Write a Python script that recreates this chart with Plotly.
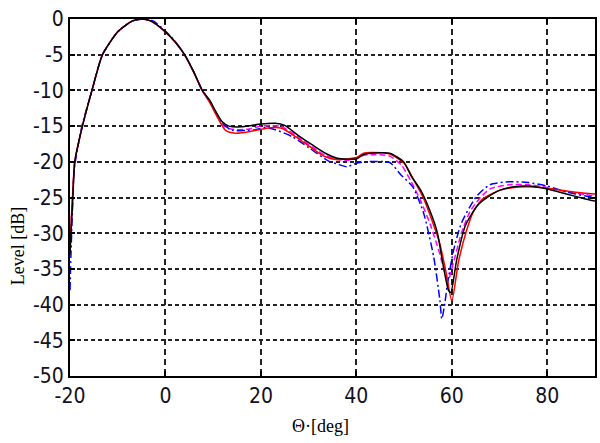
import plotly.graph_objects as go

# Measured pattern level vs. angle for four configurations
black_x = [-20, -19.8, -19.4, -19, -17.4, -15.4, -13.2, -10, -7, -5, -3, 0, 2, 4, 6, 7.7,
           9.2, 10.6, 11.9, 13.3, 16, 18, 20, 23, 25, 28, 30.7, 33.5, 36, 40, 41.5, 43,
           47, 49.9, 51.5, 53.5, 55.5, 57, 58, 59.3, 59.8, 61, 62.8, 63.8, 65.5, 67.6,
           70, 73, 76, 80, 84, 88, 90]
black_y = [-33, -30, -25, -20, -15, -10, -5, -1.8, -0.3, 0, -0.3, -1.8, -3.2, -5, -7.5, -10,
           -11.3, -13, -14.4, -15, -15.1, -14.9, -14.7, -14.6, -14.9, -16.4, -17.6, -18.8,
           -19.5, -19.6, -19, -18.8, -18.8, -20, -22, -24, -27, -30, -33.8, -38, -38.3,
           -33.8, -29, -27.7, -26, -24.9, -24, -23.5, -23.4, -23.8, -24.5, -25.2, -25.5]

red_x = [-20, -19.8, -19.4, -19, -17.4, -15.4, -13.2, -10, -7, -5, -3, 0, 2, 4, 6, 7.7,
         9.2, 10.6, 12.6, 14.7, 17.5, 19.6, 22.4, 24.4, 27.3, 30.7, 33.5, 36, 38, 40,
         41.5, 43, 47, 50, 52, 54, 56, 57.5, 58.8, 60, 61.4, 63.1, 64.5, 66.5, 70, 73,
         76, 80, 84, 88, 90]
red_y = [-32, -29, -24, -20, -15, -10, -5, -1.8, -0.3, 0, -0.3, -1.8, -3.2, -5, -7.6, -10,
         -11.6, -13.4, -15.6, -16, -15.8, -15.5, -15.2, -15.3, -16.5, -18.1, -19.3, -19.7,
         -19.6, -19.4, -18.8, -18.7, -18.9, -20.2, -22.5, -25, -28.5, -31.5, -35.5, -39.5,
         -34, -29.6, -27, -25.2, -24, -23.6, -23.5, -23.7, -24.1, -24.4, -24.5]

magenta_x = [-20, -19.8, -19.4, -19, -17.4, -15.4, -13.2, -10, -7, -5, -3, 0, 2, 4, 6, 7.7,
             9.2, 10.6, 12.6, 14.7, 17.5, 20, 22.4, 24.4, 27.3, 30.7, 33.5, 36, 38, 40,
             41.5, 43, 47, 49.5, 51.5, 53.5, 55.5, 57.3, 59.2, 60.2, 62, 63.8, 65.6, 68,
             72, 76, 80, 84, 88, 90]
magenta_y = [-32, -29, -24, -20, -15, -10, -5, -1.8, -0.3, 0, -0.3, -1.8, -3.2, -5, -7.5,
             -10, -11.4, -13.2, -15.2, -15.5, -15.4, -15, -14.9, -15.1, -16.3, -17.9, -19.1,
             -19.6, -19.8, -19.5, -19.1, -19, -19.2, -20.5, -22.8, -25.5, -28.8, -32.5,
             -36.6, -34.5, -30, -27, -25.3, -23.8, -23.2, -23.2, -23.6, -24.2, -24.6, -24.8]

blue_x = [-20, -19.8, -19.5, -19.1, -17.5, -15.4, -13.2, -10, -7, -4.5, -2.5, 0, 2, 4, 6,
          7.7, 9.2, 10.6, 11.9, 14, 16.8, 18.9, 21, 23, 26.6, 30, 34.2, 36, 38, 40, 42, 47,
          49.3, 51.8, 54.1, 56.2, 57.5, 57.9, 58.5, 59, 60.3, 62, 65.1, 68, 72, 76, 80,
          84, 88, 90]
blue_y = [-38, -33, -27, -21, -15, -10, -5, -1.8, -0.3, 0, -0.3, -1.7, -3.1, -5, -7.5, -10,
          -11.5, -13.2, -14.6, -15.6, -15.6, -15.5, -15.2, -15.5, -16.5, -18, -19.9, -20.3,
          -20.7, -20.2, -20, -20.1, -21.8, -23.5, -27.2, -33.3, -39.4, -42, -40, -37.5,
          -32.6, -28.6, -24.9, -23.2, -22.8, -22.9, -23.4, -24.2, -24.8, -25]

x_ticks = [-20, 0, 20, 40, 60, 80]
y_ticks = [0, -5, -10, -15, -20, -25, -30, -35, -40, -45, -50]

fig = go.Figure()
fig.add_trace(go.Scatter(x=magenta_x, y=magenta_y, mode="lines",
                         line=dict(color="#ff00ff", width=1.5, dash="6px,3px",
                                   shape="spline", smoothing=0.6)))
fig.add_trace(go.Scatter(x=blue_x, y=blue_y, mode="lines",
                         line=dict(color="#0000ff", width=1.5, dash="8px,3px,2px,3px",
                                   shape="spline", smoothing=0.6)))
fig.add_trace(go.Scatter(x=red_x, y=red_y, mode="lines",
                         line=dict(color="#ff0000", width=1.5, shape="spline", smoothing=0.6)))
fig.add_trace(go.Scatter(x=black_x, y=black_y, mode="lines",
                         line=dict(color="#000000", width=1.5, shape="spline", smoothing=0.6)))

tick_font = dict(family="DejaVu Sans Condensed, Liberation Sans, sans-serif",
                 size=21, color="#111122")

fig.update_layout(
    width=600, height=443,
    margin=dict(l=70, r=3, t=19, b=67),
    paper_bgcolor="white", plot_bgcolor="white",
    showlegend=False,
    xaxis=dict(range=[-20, 90], tickvals=x_ticks, ticktext=[str(v) for v in x_ticks],
               showgrid=True, gridcolor="#222222", gridwidth=1.5, griddash="6px,4px",
               showline=True, linecolor="black", linewidth=2, mirror="ticks",
               ticks="inside", ticklen=5, tickwidth=2, tickcolor="black",
               tickfont=tick_font, zeroline=False),
    yaxis=dict(range=[-50, 0], tickvals=y_ticks, ticktext=[str(v) for v in y_ticks],
               showgrid=True, gridcolor="#222222", gridwidth=1.5, griddash="4px,3px",
               showline=True, linecolor="black", linewidth=2, mirror="ticks",
               ticks="inside", ticklen=5, tickwidth=2, tickcolor="black",
               tickfont=tick_font, zeroline=False),
    annotations=[
        dict(text="Θ·[deg]", xref="paper", yref="paper", x=(321 - 70) / 527, y=-0.14,
             xanchor="center", yanchor="middle", showarrow=False,
             font=dict(family="Liberation Serif, serif", size=18, color="black")),
        dict(text="Level [dB]", xref="paper", yref="paper", x=(18 - 70) / 527,
             y=1 - (246 - 19) / 357, xanchor="center", yanchor="middle", textangle=-90,
             showarrow=False,
             font=dict(family="Liberation Serif, serif", size=18, color="black")),
    ],
)

fig.write_html("out.html")
